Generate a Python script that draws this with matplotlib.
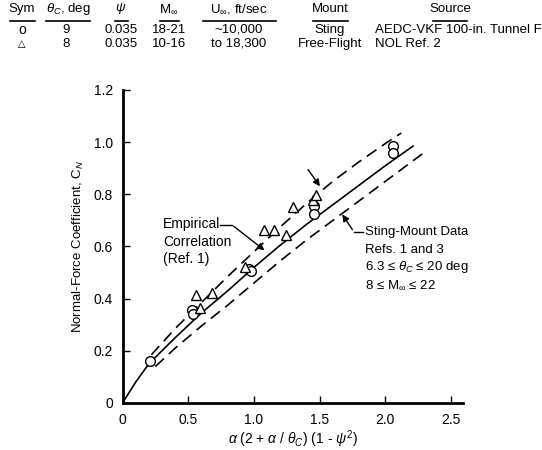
import matplotlib.pyplot as plt

plt.rcParams['font.family'] = ['Liberation Sans Narrow', 'Liberation Sans', 'DejaVu Sans']
plt.rcParams['mathtext.fontset'] = 'custom'
plt.rcParams['mathtext.rm'] = 'Liberation Sans'
plt.rcParams['mathtext.it'] = 'Liberation Sans:italic'

# sting-mount data (circles) and free-flight data (triangles)
sting_x = [0.21, 0.53, 0.54, 0.96, 0.98, 1.46, 1.46, 2.06, 2.06]
sting_y = [0.162, 0.358, 0.341, 0.515, 0.506, 0.755, 0.725, 0.985, 0.958]
free_x = [0.56, 0.59, 0.68, 0.93, 1.08, 1.15, 1.24, 1.30, 1.45, 1.47]
free_y = [0.414, 0.365, 0.42, 0.52, 0.663, 0.663, 0.646, 0.752, 0.777, 0.796]

# empirical correlation (solid) and band limits (dashed)
corr_x = [0, 0.1, 0.2, 0.4, 0.6, 0.8, 1.0, 1.2, 1.4, 1.6, 1.8, 2.0, 2.21]
corr_y = [0, 0.08, 0.15, 0.25, 0.345, 0.43, 0.52, 0.605, 0.685, 0.76, 0.835, 0.91, 0.985]
upper_x = [0.22, 0.4, 0.6, 0.8, 1.0, 1.2, 1.4, 1.6, 1.8, 2.0, 2.12]
upper_y = [0.185, 0.285, 0.385, 0.485, 0.58, 0.675, 0.765, 0.85, 0.925, 0.995, 1.035]
lower_x = [0.25, 0.4, 0.6, 0.8, 1.0, 1.2, 1.4, 1.6, 1.8, 2.0, 2.28]
lower_y = [0.14, 0.21, 0.295, 0.375, 0.46, 0.545, 0.625, 0.70, 0.775, 0.85, 0.955]

x_ticks = [0, 0.5, 1.0, 1.5, 2.0, 2.5]
y_ticks = [0, 0.2, 0.4, 0.6, 0.8, 1.0, 1.2]

# table above the chart
headers = ['Sym', r'$\theta_C$, deg', r'$\psi$', r'M$_\infty$', r'U$_\infty$, ft/sec', 'Mount', 'Source']
header_x = [22, 68, 121, 169, 239, 330, 450]
underline = [(10, 35), (46, 90), (115, 128), (160, 179), (203, 276), (313, 348), (433, 467)]
row1 = ['o', '9', '0.035', '18-21', '~10,000', 'Sting', 'AEDC-VKF 100-in. Tunnel F']
row2 = ['\u25b3', '8', '0.035', '10-16', 'to 18,300', 'Free-Flight', 'NOL Ref. 2']
row_x = [22, 66, 121, 169, 239, 330, 375]

W, H = 542, 450
fig = plt.figure(figsize=(W / 100, H / 100), dpi=100)


def px(x, y):
    return x / W, 1 - y / H


for i, h in enumerate(headers):
    fig.text(*px(header_x[i], 9), h, ha='center', va='center', fontsize=9.5)
for a, b in underline:
    fig.add_artist(plt.Line2D([a / W, b / W], [1 - 21 / H] * 2, color='black', lw=1.2))
for i in range(len(row1)):
    ha = 'left' if i == len(row1) - 1 else 'center'
    fig.text(*px(row_x[i], 30), row1[i], ha=ha, va='center', fontsize=9.5 if i else 10)
    fig.text(*px(row_x[i], 44), row2[i], ha=ha, va='center', fontsize=9.5 if i else 7,
             family=['DejaVu Sans'] if i == 0 else None)

ax = fig.add_axes([122.5 / W, 47 / H, 340.5 / W, 313 / H])

ax.plot(corr_x, corr_y, color='black', lw=1.2)
ax.plot(upper_x, upper_y, color='black', lw=1.2, dashes=(7, 4))
ax.plot(lower_x, lower_y, color='black', lw=1.2, dashes=(7, 4))
ax.plot(sting_x, sting_y, 'o', ms=7, mfc='white', mec='black', mew=1)
ax.plot(free_x, free_y, '^', ms=6.5, mfc='white', mec='black', mew=1)

ax.set_xlim(0, 2.59)
ax.set_ylim(0, 1.2)
ax.set_xticks(x_ticks)
ax.set_xticklabels(['0', '0.5', '1.0', '1.5', '2.0', '2.5'])
ax.set_yticks(y_ticks)
ax.set_yticklabels(['0', '0.2', '0.4', '0.6', '0.8', '1.0', '1.2'])
ax.tick_params(direction='in', length=5, width=1, labelsize=10, pad=7)
for s in ['top', 'right']:
    ax.spines[s].set_visible(False)
for s in ['left', 'bottom']:
    ax.spines[s].set_linewidth(2)

ax.set_xlabel(r'$\alpha$ (2 + $\alpha$ / $\theta_C$) (1 - $\psi^2$)', fontsize=10, labelpad=1)
ax.set_ylabel('Normal-Force Coefficient, C$_N$', fontsize=9.5, labelpad=5)

# annotations
emp_lines = ['Empirical', 'Correlation', '(Ref. 1)']
emp_y = [0.685, 0.617, 0.553]
for t, yy in zip(emp_lines, emp_y):
    ax.text(0.31, yy, t, fontsize=10, va='center')
ax.plot([0.74, 0.83], [0.684, 0.684], color='black', lw=1)
ax.annotate('', xy=(1.096, 0.579), xytext=(0.83, 0.684),
            arrowprops=dict(arrowstyle='-|>', color='black', lw=1, mutation_scale=10))
ax.annotate('', xy=(1.514, 0.822), xytext=(1.399, 0.904),
            arrowprops=dict(arrowstyle='-|>', color='black', lw=1, mutation_scale=10))

sting_lines = ['Sting-Mount Data', 'Refs. 1 and 3', '6.3 \u2264 $\\theta_C$ \u2264 20 deg',
               '8 \u2264 M$_\\infty$ \u2264 22']
sting_ty = [0.656, 0.586, 0.521, 0.452]
for t, yy in zip(sting_lines, sting_ty):
    ax.text(1.845, yy, t, fontsize=9.5, va='center')
ax.plot([1.76, 1.83], [0.656, 0.656], color='black', lw=1)
ax.annotate('', xy=(1.66, 0.732), xytext=(1.76, 0.656),
            arrowprops=dict(arrowstyle='-|>', color='black', lw=1, mutation_scale=10))

fig.savefig('out.png', dpi=100)
